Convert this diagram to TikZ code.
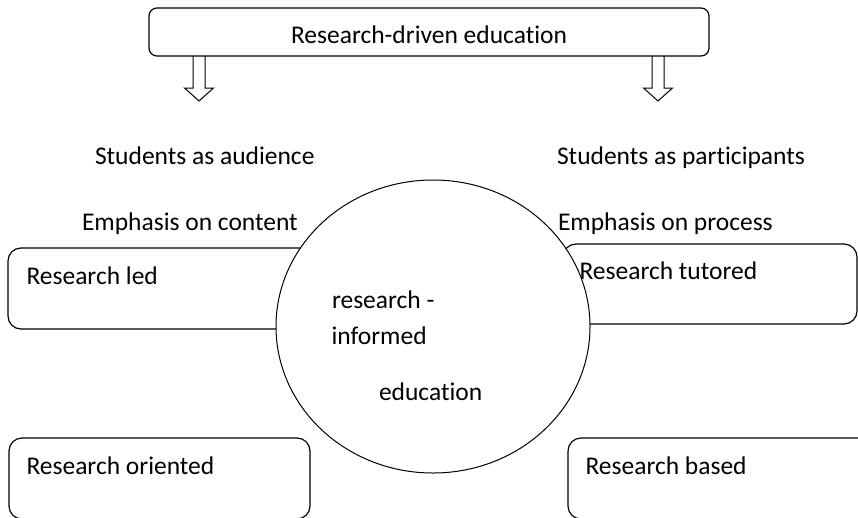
\documentclass[tikz,border=0pt]{standalone}
\usepackage{fontspec}
\setmainfont{Carlito}[Ligatures=NoCommon]
\usetikzlibrary{shapes.geometric}
\begin{document}
\begin{tikzpicture}[x=1pt,y=-1pt,
  every node/.style={inner sep=0pt, outer sep=0pt},
  txt/.style={anchor=base west, font=\fontsize{25.5}{30}\selectfont},
  panel/.style={draw, rectangle, rounded corners=13pt, line width=1.2pt},
  hollow/.style={draw, line width=1pt, line join=miter},
]
\useasboundingbox (0,0) rectangle (858,517);
\clip (0,0) rectangle (858,517);

% heading box
\node[panel, rounded corners=8pt, minimum width=560pt, minimum height=48pt,
      text height=22pt, text depth=0pt, font=\fontsize{25.5}{30}\selectfont]
      (top) at (429,32) {Research-driven education};

% hollow arrows hanging from the heading box
\coordinate (la) at (199,56);
\coordinate (ra) at (658,56);
\draw[hollow] (la) ++(-6,0) -- ++(0,32) -- ++(-8.5,0) -- ++(14.5,13)
              -- ++(14.5,-13) -- ++(-8.5,0) -- ++(0,-32);
\draw[hollow] (ra) ++(-6,0) -- ++(0,32) -- ++(-8.5,0) -- ++(14.5,13)
              -- ++(14.5,-13) -- ++(-8.5,0) -- ++(0,-32);

% column headings
\node[txt] (aud) at (95,164) {Students as audience};
\node[txt] (par) at (557,164) {Students as participants};
\node[txt] (con) at (82,230) {Emphasis on content};
\node[txt] (pro) at (558,230) {Emphasis on process};

% the four kinds of research education
\node[panel, minimum width=312pt, minimum height=81pt] (ledbox) at (164,288.5) {};
\node[panel, minimum width=294pt, minimum height=80pt] (tutbox) at (710,284) {};
\node[panel, minimum width=301pt, minimum height=81pt] (oribox) at (159.5,478.5) {};
\node[panel, minimum width=307pt, minimum height=81pt] (basbox) at (721.5,478.5) {};

% central ellipse, painted over the upper boxes
\node[draw, ellipse, line width=1pt, fill=white,
      minimum width=314pt, minimum height=293pt] (core) at (433,326.5) {};

\node[txt] (led) at (26.5,284) {Research led};
\node[txt] (tut) at (579.5,279) {Research tutored};
\node[txt] (ori) at (26.5,474) {Research oriented};
\node[txt] (bas) at (585.5,474) {Research based};

\node[txt] (c1) at (332,308) {research -};
\node[txt] (c2) at (331.5,344) {informed};
\node[txt] (c3) at (379,400) {education};
\end{tikzpicture}
\end{document}
